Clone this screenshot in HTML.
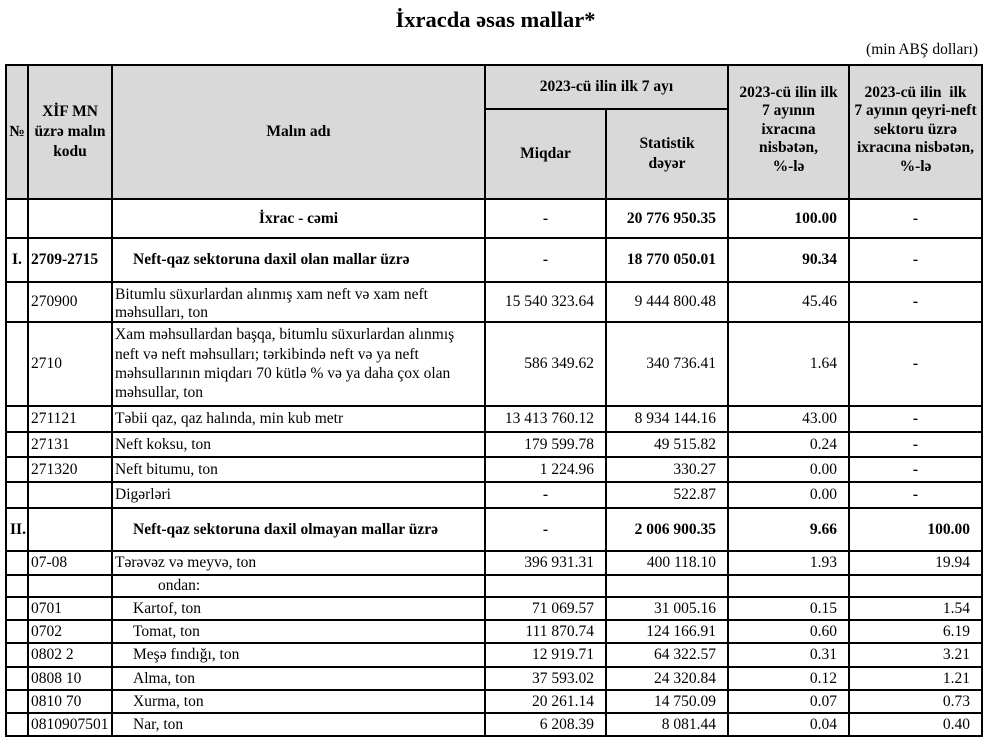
<!DOCTYPE html>
<html><head><meta charset="utf-8">
<style>
html,body{margin:0;padding:0;background:#fff;}
#p{position:relative;width:1000px;height:750px;overflow:hidden;background:#fff;font-family:"Liberation Serif","Times New Roman",serif;color:#000;}
.h{position:absolute;left:5px;width:978px;height:2px;background:#000;}
.v{position:absolute;top:64px;height:673px;width:2px;background:#000;}
.c{position:absolute;display:flex;align-items:center;box-sizing:border-box;white-space:nowrap;font-size:15.5px;line-height:18px;}
.l{justify-content:flex-start;padding-left:3px;}
.r{justify-content:flex-end;padding-right:12px;}
.m{justify-content:center;text-align:center;}
.b{font-weight:bold;}
.c1{left:6px;width:22px;}
.c2{left:28px;width:84px;}
.c3{left:112px;width:373px;}
.c4{left:485px;width:121px;}
.c5{left:606px;width:122px;}
.c6{left:728px;width:121px;}
.c7{left:849px;width:133px;}
.hd{font-weight:bold;}
</style></head><body><div id="p">

<div style="position:absolute;left:0;width:991px;top:7px;text-align:center;font-size:22.5px;line-height:25px;font-weight:bold;white-space:nowrap;">İxracda əsas mallar*</div>
<div style="position:absolute;right:22px;top:41px;font-size:15.5px;line-height:18px;white-space:nowrap;">(min ABŞ dolları)</div>

<div style="position:absolute;left:6px;top:65px;width:976px;height:134px;background:#d9d9d9;"></div>

<!-- header text -->
<div class="c m hd c1" style="top:65px;height:134px;">№</div>
<div class="c m hd c2" style="top:65px;height:134px;line-height:20px;">XİF MN<br>üzrə malın<br>kodu</div>
<div class="c m hd c3" style="top:65px;height:134px;">Malın adı</div>
<div class="c m hd" style="left:485px;width:243px;top:65px;height:44px;">2023-cü ilin ilk 7 ayı</div>
<div class="c m hd c4" style="top:109px;height:90px;">Miqdar</div>
<div class="c m hd c5" style="top:109px;height:90px;line-height:20px;">Statistik<br>dəyər</div>
<div class="c m hd c6" style="top:65px;height:130px;line-height:18.5px;">2023-cü ilin ilk<br>7 ayının<br>ixracına<br>nisbətən,<br>%-lə</div>
<div class="c m hd c7" style="top:65px;height:130px;line-height:18.5px;">2023-cü ilin&nbsp; ilk<br>7 ayının qeyri-neft<br>sektoru üzrə<br>ixracına nisbətən,<br>%-lə</div>

<!-- row 0 -->
<div class="c m b c3" style="top:199px;height:39px;">İxrac - cəmi</div>
<div class="c m b c4" style="top:199px;height:39px;">-</div>
<div class="c r b c5" style="top:199px;height:39px;">20 776 950.35</div>
<div class="c r b c6" style="top:199px;height:39px;">100.00</div>
<div class="c m b c7" style="top:199px;height:39px;">-</div>

<!-- row I -->
<div class="c b c1" style="top:238px;height:44px;padding-left:6px;">I.</div>
<div class="c l b c2" style="top:238px;height:44px;">2709-2715</div>
<div class="c b c3" style="top:238px;height:44px;padding-left:21px;">Neft-qaz sektoruna daxil olan mallar üzrə</div>
<div class="c m b c4" style="top:238px;height:44px;">-</div>
<div class="c r b c5" style="top:238px;height:44px;">18 770 050.01</div>
<div class="c r b c6" style="top:238px;height:44px;">90.34</div>
<div class="c m b c7" style="top:238px;height:44px;">-</div>

<!-- 270900 -->
<div class="c l c2" style="top:282px;height:40px;">270900</div>
<div class="c l c3" style="top:282px;height:40px;padding-top:3px;">Bitumlu süxurlardan alınmış xam neft və xam neft<br>məhsulları, ton</div>
<div class="c r c4" style="top:282px;height:40px;">15 540 323.64</div>
<div class="c r c5" style="top:282px;height:40px;">9 444 800.48</div>
<div class="c r c6" style="top:282px;height:40px;">45.46</div>
<div class="c m b c7" style="top:282px;height:40px;">-</div>

<!-- 2710 -->
<div class="c l c2" style="top:322px;height:84px;">2710</div>
<div class="c l c3" style="top:322px;height:84px;line-height:19.3px;">Xam məhsullardan başqa, bitumlu süxurlardan alınmış<br>neft və neft məhsulları; tərkibində neft və ya neft<br>məhsullarının miqdarı 70 kütlə % və ya daha çox olan<br>məhsullar, ton</div>
<div class="c r c4" style="top:322px;height:84px;">586 349.62</div>
<div class="c r c5" style="top:322px;height:84px;">340 736.41</div>
<div class="c r c6" style="top:322px;height:84px;">1.64</div>
<div class="c m b c7" style="top:322px;height:84px;">-</div>

<!-- 271121 -->
<div class="c l c2" style="top:406px;height:26px;">271121</div>
<div class="c l c3" style="top:406px;height:26px;">Təbii qaz, qaz halında, min kub metr</div>
<div class="c r c4" style="top:406px;height:26px;">13 413 760.12</div>
<div class="c r c5" style="top:406px;height:26px;">8 934 144.16</div>
<div class="c r c6" style="top:406px;height:26px;">43.00</div>
<div class="c m b c7" style="top:406px;height:26px;">-</div>

<!-- 27131 -->
<div class="c l c2" style="top:432px;height:25px;">27131</div>
<div class="c l c3" style="top:432px;height:25px;">Neft koksu, ton</div>
<div class="c r c4" style="top:432px;height:25px;">179 599.78</div>
<div class="c r c5" style="top:432px;height:25px;">49 515.82</div>
<div class="c r c6" style="top:432px;height:25px;">0.24</div>
<div class="c m b c7" style="top:432px;height:25px;">-</div>

<!-- 271320 -->
<div class="c l c2" style="top:457px;height:25px;">271320</div>
<div class="c l c3" style="top:457px;height:25px;">Neft bitumu, ton</div>
<div class="c r c4" style="top:457px;height:25px;">1 224.96</div>
<div class="c r c5" style="top:457px;height:25px;">330.27</div>
<div class="c r c6" style="top:457px;height:25px;">0.00</div>
<div class="c m b c7" style="top:457px;height:25px;">-</div>

<!-- Digərləri -->
<div class="c l c3" style="top:482px;height:26px;">Digərləri</div>
<div class="c m b c4" style="top:482px;height:26px;">-</div>
<div class="c r c5" style="top:482px;height:26px;">522.87</div>
<div class="c r c6" style="top:482px;height:26px;">0.00</div>
<div class="c m b c7" style="top:482px;height:26px;">-</div>

<!-- II -->
<div class="c b c1" style="top:508px;height:43px;padding-left:4px;">II.</div>
<div class="c b c3" style="top:508px;height:43px;padding-left:21px;">Neft-qaz sektoruna daxil olmayan mallar üzrə</div>
<div class="c m b c4" style="top:508px;height:43px;">-</div>
<div class="c r b c5" style="top:508px;height:43px;">2 006 900.35</div>
<div class="c r b c6" style="top:508px;height:43px;">9.66</div>
<div class="c r b c7" style="top:508px;height:43px;">100.00</div>

<!-- 07-08 -->
<div class="c l c2" style="top:551px;height:24px;">07-08</div>
<div class="c l c3" style="top:551px;height:24px;">Tərəvəz və meyvə, ton</div>
<div class="c r c4" style="top:551px;height:24px;">396 931.31</div>
<div class="c r c5" style="top:551px;height:24px;">400 118.10</div>
<div class="c r c6" style="top:551px;height:24px;">1.93</div>
<div class="c r c7" style="top:551px;height:24px;">19.94</div>

<!-- ondan -->
<div class="c c3" style="top:575px;height:22px;padding-left:46px;">ondan:</div>

<!-- 0701 -->
<div class="c l c2" style="top:597px;height:23px;">0701</div>
<div class="c c3" style="top:597px;height:23px;padding-left:21px;">Kartof, ton</div>
<div class="c r c4" style="top:597px;height:23px;">71 069.57</div>
<div class="c r c5" style="top:597px;height:23px;">31 005.16</div>
<div class="c r c6" style="top:597px;height:23px;">0.15</div>
<div class="c r c7" style="top:597px;height:23px;">1.54</div>

<!-- 0702 -->
<div class="c l c2" style="top:620px;height:23px;">0702</div>
<div class="c c3" style="top:620px;height:23px;padding-left:21px;">Tomat, ton</div>
<div class="c r c4" style="top:620px;height:23px;">111 870.74</div>
<div class="c r c5" style="top:620px;height:23px;">124 166.91</div>
<div class="c r c6" style="top:620px;height:23px;">0.60</div>
<div class="c r c7" style="top:620px;height:23px;">6.19</div>

<!-- 0802 2 -->
<div class="c l c2" style="top:643px;height:24px;">0802 2</div>
<div class="c c3" style="top:643px;height:24px;padding-left:21px;">Meşə fındığı, ton</div>
<div class="c r c4" style="top:643px;height:24px;">12 919.71</div>
<div class="c r c5" style="top:643px;height:24px;">64 322.57</div>
<div class="c r c6" style="top:643px;height:24px;">0.31</div>
<div class="c r c7" style="top:643px;height:24px;">3.21</div>

<!-- 0808 10 -->
<div class="c l c2" style="top:667px;height:23px;">0808 10</div>
<div class="c c3" style="top:667px;height:23px;padding-left:21px;">Alma, ton</div>
<div class="c r c4" style="top:667px;height:23px;">37 593.02</div>
<div class="c r c5" style="top:667px;height:23px;">24 320.84</div>
<div class="c r c6" style="top:667px;height:23px;">0.12</div>
<div class="c r c7" style="top:667px;height:23px;">1.21</div>

<!-- 0810 70 -->
<div class="c l c2" style="top:690px;height:23px;">0810 70</div>
<div class="c c3" style="top:690px;height:23px;padding-left:21px;">Xurma, ton</div>
<div class="c r c4" style="top:690px;height:23px;">20 261.14</div>
<div class="c r c5" style="top:690px;height:23px;">14 750.09</div>
<div class="c r c6" style="top:690px;height:23px;">0.07</div>
<div class="c r c7" style="top:690px;height:23px;">0.73</div>

<!-- 0810907501 -->
<div class="c l c2" style="top:713px;height:23px;">0810907501</div>
<div class="c c3" style="top:713px;height:23px;padding-left:21px;">Nar, ton</div>
<div class="c r c4" style="top:713px;height:23px;">6 208.39</div>
<div class="c r c5" style="top:713px;height:23px;">8 081.44</div>
<div class="c r c6" style="top:713px;height:23px;">0.04</div>
<div class="c r c7" style="top:713px;height:23px;">0.40</div>

<!-- horizontal lines -->
<div class="h" style="top:64px;"></div>
<div class="h" style="top:108px;left:485px;width:244px;"></div>
<div class="h" style="top:198px;"></div>
<div class="h" style="top:237px;"></div>
<div class="h" style="top:281px;"></div>
<div class="h" style="top:321px;"></div>
<div class="h" style="top:405px;"></div>
<div class="h" style="top:431px;"></div>
<div class="h" style="top:456px;"></div>
<div class="h" style="top:481px;"></div>
<div class="h" style="top:507px;"></div>
<div class="h" style="top:550px;"></div>
<div class="h" style="top:574px;"></div>
<div class="h" style="top:596px;"></div>
<div class="h" style="top:619px;"></div>
<div class="h" style="top:642px;"></div>
<div class="h" style="top:666px;"></div>
<div class="h" style="top:689px;"></div>
<div class="h" style="top:712px;"></div>
<div class="h" style="top:735px;"></div>

<!-- vertical lines -->
<div class="v" style="left:5px;"></div>
<div class="v" style="left:27px;"></div>
<div class="v" style="left:111px;"></div>
<div class="v" style="left:484px;"></div>
<div class="v" style="left:605px;top:108px;height:629px;"></div>
<div class="v" style="left:727px;"></div>
<div class="v" style="left:848px;"></div>
<div class="v" style="left:981px;"></div>

</div></body></html>
